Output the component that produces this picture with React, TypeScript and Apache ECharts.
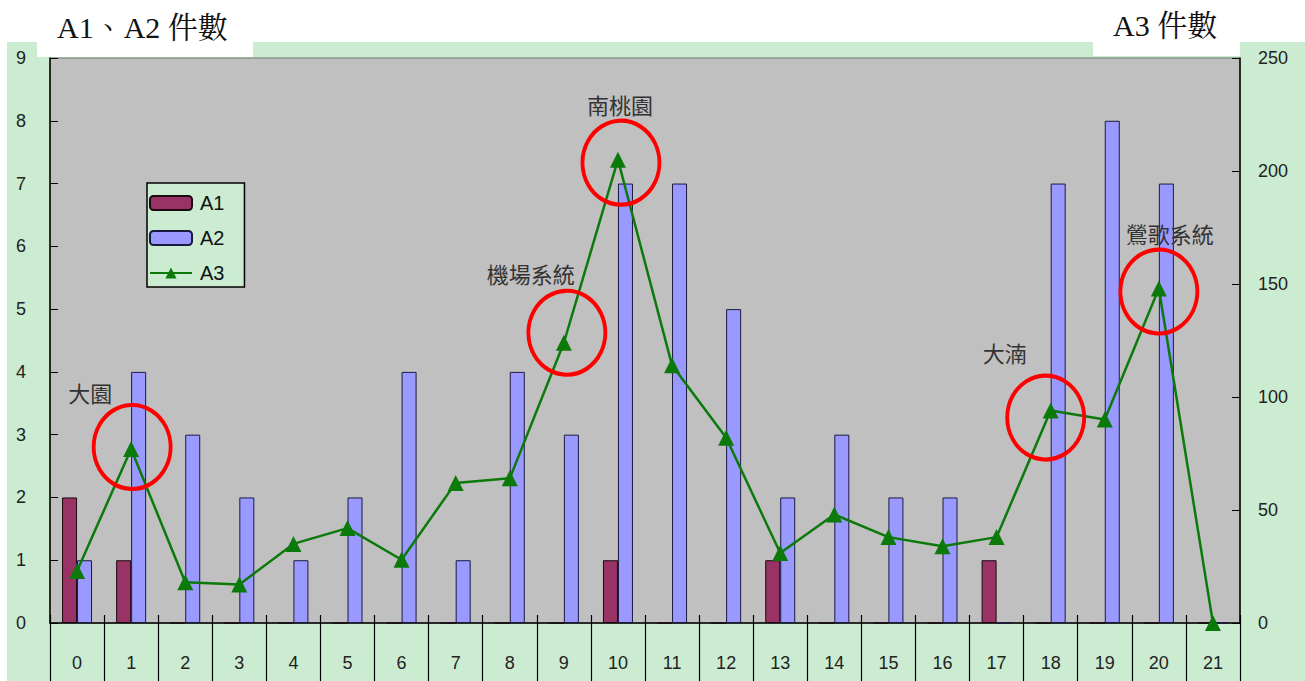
import { useEffect, useRef } from 'react';
import * as echarts from 'echarts';

const categories = ['0', '1', '2', '3', '4', '5', '6', '7', '8', '9', '10', '11', '12', '13', '14', '15', '16', '17', '18', '19', '20', '21'];
const a1Values = [2, 1, 0, 0, 0, 0, 0, 0, 0, 0, 1, 0, 0, 1, 0, 0, 0, 1, 0, 0, 0, 0];
const a2Values = [1, 4, 3, 2, 1, 2, 4, 1, 4, 3, 7, 7, 5, 2, 3, 2, 2, 0, 7, 8, 7, 0];
const a3Values = [23, 77, 18, 17, 35, 42, 28, 62, 64, 124, 205, 114, 82, 31, 48, 38, 34, 38, 94, 90, 148, 0];

const leftAxisMax = 9;
const leftAxisInterval = 1;
const rightAxisMax = 250;
const rightAxisInterval = 50;

const leftTitle = 'A1、A2 件數';
const rightTitle = 'A3 件數';

const annotationCats = ['1', '9', '10', '18', '20'];
const annotationLabels = ['大園', '機場系統', '南桃園', '大湳', '鶯歌系統'];
// visual placement (offsets in px relative to the marked point)
const circleOffsets = [[1, -2], [3, -10], [3, 3], [-5, 7], [0, 3]];
const labelOffsets = [[-41, -57], [-33, -70], [2, -56], [-46, -59], [11, -56]];

const GREEN_BG = '#cbecd1';
const PLOT_BG = '#c0c0c0';
const TICK_FONT = "'Liberation Sans', 'DejaVu Sans', sans-serif";
const CJK_FONT = "'Noto Sans CJK TC', 'Noto Sans CJK SC', sans-serif";
const SERIF_FONT = "'Liberation Serif', 'Noto Serif CJK TC', 'Noto Sans CJK TC', serif";

export default function App() {
  const ref = useRef<HTMLDivElement>(null);

  useEffect(() => {
    if (!ref.current) return;
    const chart = echarts.init(ref.current, null, { renderer: 'svg' });

    const a3Value = (cat: string) => a3Values[categories.indexOf(cat)];

    const circleMarks = annotationCats.map((cat, i) => ({
      coord: [cat, a3Value(cat)],
      symbol: 'circle',
      symbolSize: [77, 84],
      symbolOffset: circleOffsets[i],
      itemStyle: { color: 'rgba(0,0,0,0)', borderColor: '#ff0000', borderWidth: 4 },
      label: { show: false },
    }));
    const labelMarks = annotationCats.map((cat, i) => ({
      coord: [cat, a3Value(cat)],
      symbol: 'rect',
      symbolSize: 1,
      itemStyle: { color: 'rgba(0,0,0,0)' },
      label: {
        show: true,
        position: 'inside',
        offset: labelOffsets[i],
        formatter: annotationLabels[i],
        fontFamily: CJK_FONT,
        fontSize: 22,
        color: '#333',
      },
    }));

    chart.setOption({
      animation: false,
      backgroundColor: '#ffffff',
      graphic: [
        { type: 'rect', z: -10, shape: { x: 7, y: 42, width: 1298, height: 639 }, style: { fill: GREEN_BG } },
        { type: 'rect', z: -9, shape: { x: 37, y: 0, width: 216, height: 57 }, style: { fill: '#ffffff' } },
        { type: 'rect', z: -9, shape: { x: 1093, y: 0, width: 147, height: 56 }, style: { fill: '#ffffff' } },
        {
          type: 'text', z: 10, x: 57, y: 27,
          style: { text: leftTitle, font: `30px ${SERIF_FONT}`, fill: '#111', textVerticalAlign: 'middle' },
        },
        {
          type: 'text', z: 10, x: 1113, y: 25,
          style: { text: rightTitle, font: `30px ${SERIF_FONT}`, fill: '#111', textVerticalAlign: 'middle' },
        },
      ],
      grid: {
        left: 50,
        top: 58,
        right: 65,
        bottom: 58,
        show: true,
        backgroundColor: PLOT_BG,
        borderColor: '#6a7a6a',
        borderWidth: 1,
      },
      legend: {
        orient: 'vertical',
        left: 147,
        top: 183,
        width: 100,
        padding: [10, 20, 4, 2],
        itemWidth: 42,
        itemHeight: 14,
        itemGap: 15,
        backgroundColor: GREEN_BG,
        borderColor: '#000',
        borderWidth: 1.5,
        selectedMode: false,
        textStyle: { fontFamily: TICK_FONT, fontSize: 20, lineHeight: 20, color: '#111', padding: [0, 0, 0, 3] },
        data: ['A1', 'A2', 'A3'],
      },
      xAxis: [
        {
          type: 'category',
          data: categories,
          position: 'bottom',
          axisLine: { show: true, lineStyle: { color: '#000', width: 1.5 } },
          axisTick: { show: true, inside: false, length: 58, alignWithLabel: false, lineStyle: { color: '#000', width: 1.2 } },
          axisLabel: { fontFamily: TICK_FONT, fontSize: 18, color: '#222', margin: 31 },
          splitLine: { show: false },
        },
        {
          type: 'category',
          data: categories,
          position: 'bottom',
          offset: 0,
          axisLine: { show: false },
          axisTick: { show: true, inside: true, length: 8, alignWithLabel: false, lineStyle: { color: '#000', width: 1.2 } },
          axisLabel: { show: false },
          splitLine: { show: false },
        },
      ],
      yAxis: [
        {
          type: 'value',
          min: 0,
          max: leftAxisMax,
          interval: leftAxisInterval,
          position: 'left',
          axisLine: { show: true, lineStyle: { color: '#000', width: 1.5 } },
          axisTick: { show: true, inside: true, length: 8, lineStyle: { color: '#000' } },
          axisLabel: { fontFamily: TICK_FONT, fontSize: 18, color: '#222', margin: 24 },
          splitLine: { show: false },
        },
        {
          type: 'value',
          min: 0,
          max: rightAxisMax,
          interval: rightAxisInterval,
          position: 'right',
          axisLine: { show: true, lineStyle: { color: '#000', width: 1.5 } },
          axisTick: { show: true, inside: true, length: 8, lineStyle: { color: '#000' } },
          axisLabel: { fontFamily: TICK_FONT, fontSize: 18, color: '#222', margin: 18 },
          splitLine: { show: false },
        },
      ],
      series: [
        {
          name: 'A1',
          type: 'bar',
          xAxisIndex: 0,
          yAxisIndex: 0,
          data: a1Values,
          barWidth: 15,
          barGap: '0%',
          itemStyle: { color: '#993366', borderColor: '#1a0a10', borderWidth: 1 },
        },
        {
          name: 'A2',
          type: 'bar',
          xAxisIndex: 0,
          yAxisIndex: 0,
          data: a2Values,
          barWidth: 15,
          barGap: '0%',
          itemStyle: { color: '#9999ff', borderColor: '#1a1a40', borderWidth: 1 },
        },
        {
          name: 'A3',
          type: 'line',
          xAxisIndex: 0,
          yAxisIndex: 1,
          data: a3Values,
          symbol: 'triangle',
          symbolSize: 16,
          lineStyle: { color: '#0b7a0b', width: 2.5 },
          itemStyle: { color: '#0b7a0b' },
          markPoint: {
            silent: true,
            data: [...circleMarks, ...labelMarks],
          },
        },
      ],
    });

    return () => chart.dispose();
  }, []);

  return (
    <div
      ref={ref}
      style={{ position: 'fixed', left: 0, top: 0, width: 1305, height: 681 }}
    />
  );
}
